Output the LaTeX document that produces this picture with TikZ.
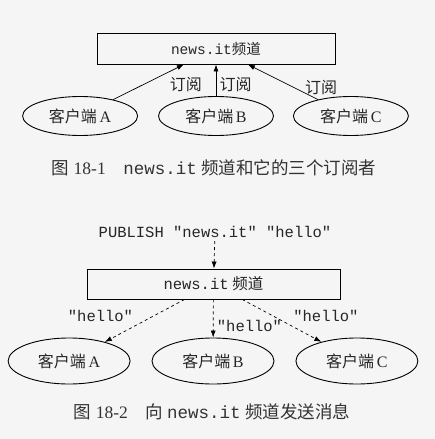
\documentclass[tikz,border=0pt]{standalone}
\usepackage{fontspec}
\setmainfont{Liberation Serif}
\setmonofont{Liberation Mono}
\newfontfamily\cjk{Noto Sans CJK SC}
\usetikzlibrary{shapes.geometric,positioning,arrows.meta}
\newcommand{\zh}[1]{{\cjk #1}}
\newcommand{\mono}[1]{{\ttfamily #1}}
\begin{document}
\begin{tikzpicture}[x=1pt, y=-1pt, >={Latex[length=7pt,width=5pt]}, auto]

        \tikzstyle{channel} = [rectangle, draw, line width=0.9pt, inner sep=0pt, text centered, text=black!85]
        \tikzstyle{client} = [ellipse, draw, line width=0.9pt, inner sep=0pt, minimum width=115pt, minimum height=39pt, text=black!85]
        \tikzstyle{lbl} = [font=\fontsize{16}{16}\selectfont, text=black!85]
        \tikzstyle{msg} = [font=\fontsize{15.5}{15.5}\ttfamily, text=black!85]
        \tikzstyle{caption} = [font=\fontsize{17.5}{17.5}\selectfont, text=black!80]

        \fill [black!4] (0,0) rectangle (435,439);
        \useasboundingbox (0,0) rectangle (435,439);

        % figure 18-1
        \node [channel, minimum width=238pt, minimum height=31pt, font=\fontsize{14.5}{14.5}\selectfont] (chan1) at (216,48.5) {\mono{news.it}\zh{频道}};
        \node [client, lbl] (clientB1) at (216,116) {\zh{客户端}\,B};
        \node [client, lbl, left=20pt of clientB1] (clientA1) {\zh{客户端}\,A};
        \node [client, lbl, right=19pt of clientB1] (clientC1) {\zh{客户端}\,C};

        \draw [->, line width=0.7pt] (clientA1) -- node [lbl, pos=0.75, below right] {\zh{订阅}} (chan1);
        \draw [->, line width=0.7pt] (clientB1) -- node [lbl, pos=0.35, right] {\zh{订阅}} (chan1);
        \draw [->, line width=0.7pt] (clientC1) -- node [lbl, pos=0.35, right, xshift=8pt] {\zh{订阅}} (chan1);

        \node [caption] (cap1) at (214,168) {\zh{图}~18-1\quad\mono{news.it} \zh{频道和它的三个订阅者}};

        % figure 18-2
        \node [msg] (pub) at (215,232) {PUBLISH "news.it" "hello"};
        \node [channel, minimum width=253pt, minimum height=30pt, font=\fontsize{15.5}{15.5}\selectfont] (chan2) at (213.5,284) {\mono{news.it} \zh{频道}};
        \node [client, lbl, minimum width=122pt, minimum height=46pt] (clientB2) at (213,361) {\zh{客户端}\,B};
        \node [client, lbl, minimum width=122pt, minimum height=46pt, left=21pt of clientB2] (clientA2) {\zh{客户端}\,A};
        \node [client, lbl, minimum width=122pt, minimum height=46pt, right=21pt of clientB2] (clientC2) {\zh{客户端}\,C};

        \draw [->, dashed, line width=0.7pt] (pub) -- (chan2);
        \draw [->, dashed, line width=0.7pt] (chan2) -- node [msg, pos=0.6, above left] {"hello"} (clientA2);
        \draw [->, dashed, line width=0.7pt] (chan2) -- node [msg, pos=0.7, right] {"hello"} (clientB2);
        \draw [->, dashed, line width=0.7pt] (chan2) -- node [msg, pos=0.6, above right] {"hello"} (clientC2);

        \node [caption] (cap2) at (212,412) {\zh{图}~18-2\quad\zh{向}~\mono{news.it} \zh{频道发送消息}};

    \end{tikzpicture}
\end{document}
